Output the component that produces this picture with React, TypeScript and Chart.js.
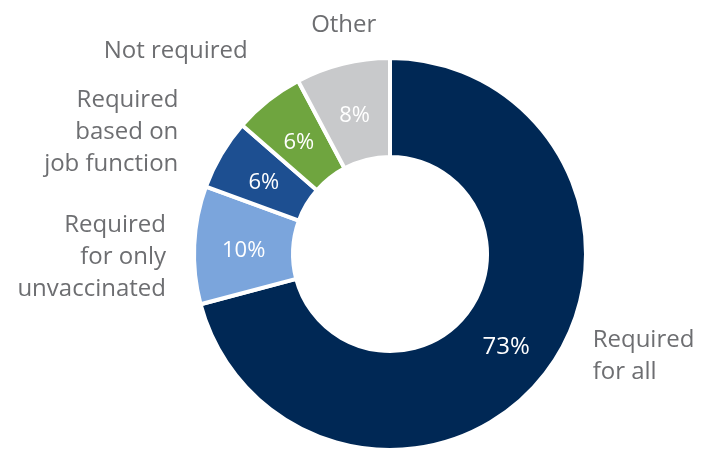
import React, { useEffect, useRef } from "react";
import { Chart, registerables } from "chart.js";

Chart.register(...registerables);

const categories = [
  "Required for all",
  "Required for only unvaccinated",
  "Required based on job function",
  "Not required",
  "Other",
];
const values = [73, 10, 6, 6, 8];
const valueLabels = ["73%", "10%", "6%", "6%", "8%"];
const outerLabelLines = [
  ["Required", "for all"],
  ["Required", "for only", "unvaccinated"],
  ["Required", "based on", "job function"],
  ["Not required"],
  ["Other"],
];
const colors = ["#002855", "#7BA5DC", "#1D4F91", "#6FA53F", "#C8C9CB"];

// label placement relative to chart centre, in units of outer radius (baseline of middle line)
const labelLayout = [
  { dx: 1.034, dy: 0.558, align: "left" },
  { dx: -1.143, dy: 0.051, align: "right" },
  { dx: -1.08, dy: -0.589, align: "right" },
  { dx: -0.726, dy: -0.998, align: "right" },
  { dx: -0.236, dy: -1.134, align: "center" },
];

const FONT = "'Open Sans', Lato, sans-serif";

const labelPlugin = {
  id: "donutLabels",
  afterDatasetsDraw(chart: any) {
    const ctx = chart.ctx;
    const meta = chart.getDatasetMeta(0);
    ctx.save();
    meta.data.forEach((arc: any, i: number) => {
      const { x, y, startAngle, endAngle, innerRadius, outerRadius } = arc.getProps(
        ["x", "y", "startAngle", "endAngle", "innerRadius", "outerRadius"],
        true
      );
      const mid = (startAngle + endAngle) / 2;
      const r = (innerRadius + outerRadius) / 2;
      const size = values[i] > 50 ? 24 : 22;
      ctx.fillStyle = "#ffffff";
      ctx.font = `${size}px ${FONT}`;
      ctx.textAlign = "center";
      ctx.textBaseline = "alphabetic";
      ctx.fillText(
        valueLabels[i],
        x + Math.cos(mid) * r,
        y + Math.sin(mid) * r + size * 0.36 + 2
      );

      const lay = labelLayout[i];
      const lines = outerLabelLines[i];
      const lh = 32;
      const ax = x + lay.dx * outerRadius;
      const ay = y + lay.dy * outerRadius;
      ctx.fillStyle = "#6D6E71";
      ctx.font = `24px ${FONT}`;
      ctx.textAlign = lay.align;
      ctx.textBaseline = "alphabetic";
      lines.forEach((ln: string, j: number) => {
        ctx.fillText(ln, ax, ay + (j - (lines.length - 1) / 2) * lh);
      });
    });
    ctx.restore();
  },
};

export default function App() {
  const ref = useRef<HTMLCanvasElement>(null);
  useEffect(() => {
    document.body.style.margin = "0";
    const chart = new Chart(ref.current as HTMLCanvasElement, {
      type: "doughnut",
      data: {
        labels: categories,
        datasets: [
          {
            data: values,
            backgroundColor: colors,
            borderColor: "#ffffff",
            borderWidth: 4,
            borderAlign: "center",
          },
        ],
      },
      options: {
        responsive: false,
        animation: false,
        radius: 196,
        cutout: "49.5%",
        layout: { padding: { left: 195, right: 130, top: 59, bottom: 0 } },
        plugins: {
          legend: { display: false },
          tooltip: { enabled: false },
        },
      },
      plugins: [labelPlugin],
    });
    return () => chart.destroy();
  }, []);
  return (
    <div style={{ width: 715, height: 449, background: "#fff" }}>
      <canvas ref={ref} width={715} height={449} />
    </div>
  );
}
